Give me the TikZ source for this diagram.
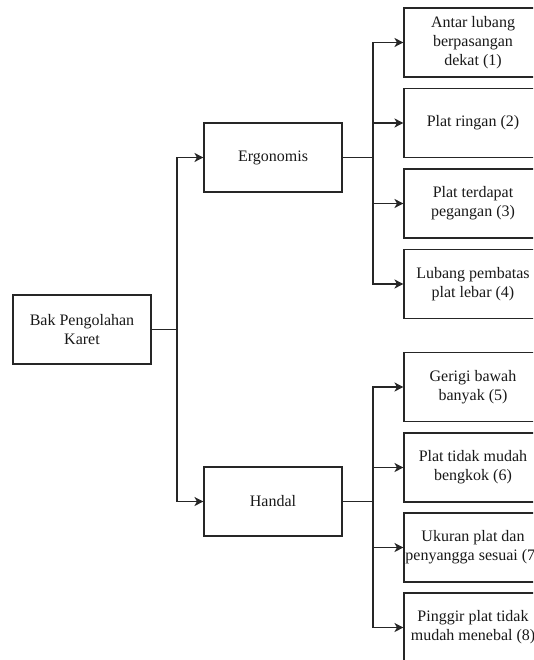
\documentclass[tikz,border=0pt]{standalone}
\usepackage{fontspec}
\setmainfont{Liberation Serif}
\usetikzlibrary{arrows.meta}
\begin{document}
\begin{tikzpicture}[x=1pt,y=-1pt,
  box/.style={draw=black!85, line width=1.1pt, minimum width=138pt, minimum height=69pt, inner sep=0pt, align=center, text=black!90, font=\fontsize{16}{19}\selectfont},
  conn/.style={draw=black!85, line width=1.1pt},
  arr/.style={conn, -{Stealth[length=9pt,width=9pt,inset=2.5pt]}}]
\useasboundingbox (0,0) rectangle (533,660);
\fill[white] (0,0) rectangle (533,660);
\clip (0,0) rectangle (533,660);
\node[box] (root) at (82,329.5) {Bak Pengolahan\\Karet};
\node[box] (ergo) at (273,157.5) {Ergonomis};
\node[box] (handal) at (273,501.5) {Handal};
\node[box] (c1) at (473,42.5) {Antar lubang\\berpasangan\\dekat (1)};
\node[box] (c2) at (473,123) {Plat ringan (2)};
\node[box] (c3) at (473,203.5) {Plat terdapat\\pegangan (3)};
\node[box] (c4) at (473,284) {Lubang pembatas\\plat lebar (4)};
\node[box] (c5) at (473,387) {Gerigi bawah\\banyak (5)};
\node[box] (c6) at (473,467.5) {Plat tidak mudah\\bengkok (6)};
\node[box] (c7) at (473,547.5) {Ukuran plat dan\\penyangga sesuai (7)};
\node[box] (c8) at (473,627.5) {Pinggir plat tidak\\mudah menebal (8)};
\coordinate (j0) at (177,329.5);
\coordinate (j1) at (373,157.5);
\coordinate (j2) at (373,501.5);
\draw[conn] (root.east) -- (j0);
\draw[arr] (j0) |- (ergo.west);
\draw[arr] (j0) |- (handal.west);
\draw[conn] (ergo.east) -- (j1);
\foreach \c in {c1,c2,c3,c4} \draw[arr] (j1) |- (\c.west);
\draw[conn] (handal.east) -- (j2);
\foreach \c in {c5,c6,c7,c8} \draw[arr] (j2) |- (\c.west);
\end{tikzpicture}
\end{document}
